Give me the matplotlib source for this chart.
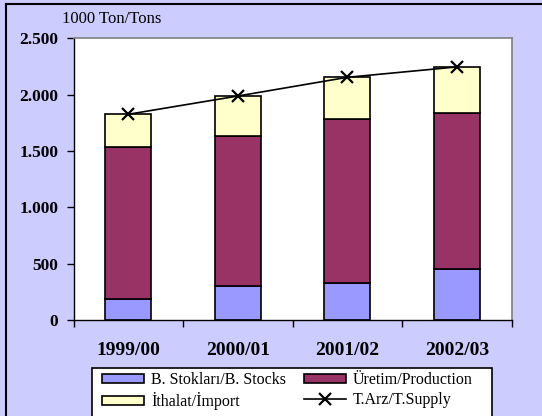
import matplotlib
matplotlib.use("Agg")
import matplotlib.pyplot as plt
from matplotlib.patches import Rectangle, Patch
from matplotlib.lines import Line2D
from matplotlib.ticker import FuncFormatter

categories = ["1999/00", "2000/01", "2001/02", "2002/03"]
stocks = [183, 304, 331, 452]
production = [1348, 1327, 1451, 1389]
imports = [295, 357, 372, 405]
supply = [1826, 1988, 2154, 2246]
yticks = [0, 500, 1000, 1500, 2000, 2500]

plt.rcParams['font.family'] = ['Liberation Serif', 'DejaVu Serif']

W, H = 542, 416
fig = plt.figure(figsize=(W / 100, H / 100), dpi=100)
fig.patch.set_facecolor('#CCCCFF')

ax = fig.add_axes([73.7 / W, (H - 320) / H, (511.7 - 73.7) / W, (320 - 38.3) / H])
ax.set_facecolor('white')

x = list(range(len(categories)))
bw = 0.42
c_st, c_pr, c_im = '#9999FF', '#993366', '#FFFFCC'
ax.bar(x, stocks, bw, color=c_st, edgecolor='black', linewidth=1.2, zorder=2)
ax.bar(x, production, bw, bottom=stocks, color=c_pr, edgecolor='black', linewidth=1.2, zorder=2)
bot2 = [a + b for a, b in zip(stocks, production)]
ax.bar(x, imports, bw, bottom=bot2, color=c_im, edgecolor='black', linewidth=1.2, zorder=2)
ax.plot(x, supply, color='black', linewidth=1.2, marker='x', markersize=9,
        markeredgewidth=1.6, zorder=3)

ax.set_xlim(-0.5, len(categories) - 0.5)
ax.set_ylim(0, 2500)
ax.set_yticks(yticks)
ax.yaxis.set_major_formatter(FuncFormatter(lambda v, p: f"{int(v):,}".replace(",", ".")))
ax.set_xticks(x)
ax.set_xticklabels(categories, fontsize=14, fontweight='bold')
ax.set_xticks([i - 0.5 for i in range(len(categories) + 1)], minor=True)
ax.tick_params(axis='x', which='major', length=0, pad=16)
ax.tick_params(axis='x', which='minor', length=5, direction='out', width=1)
ax.tick_params(axis='y', length=5, width=1, labelsize=12.5, pad=6)
for lbl in ax.get_yticklabels():
    lbl.set_fontweight('bold')

for s in ['top', 'right']:
    ax.spines[s].set_color('#808080')
    ax.spines[s].set_linewidth(1.2)
for s in ['left', 'bottom']:
    ax.spines[s].set_color('black')
    ax.spines[s].set_linewidth(1.0)

fig.text(62 / W, (H - 19) / H, "1000 Ton/Tons", fontsize=12, ha='left', va='center')

# figure border (cropped: top & left only visible)
fig.add_artist(Line2D([6 / W, 1.0], [(H - 4) / H, (H - 4) / H], color='black', linewidth=1.5,
                      transform=fig.transFigure))
fig.add_artist(Line2D([6 / W, 6 / W], [0, (H - 4) / H], color='black', linewidth=1.5,
                      transform=fig.transFigure))

# legend frame
fig.add_artist(Rectangle((91.7 / W, -0.05), (492.3 - 91.7) / W, (H - 368.3) / H + 0.05,
                         transform=fig.transFigure, facecolor='white', edgecolor='black',
                         linewidth=1.2, zorder=1))
handles = [
    Patch(facecolor=c_st, edgecolor='black', linewidth=1.2, label='B. Stokları/B. Stocks'),
    Patch(facecolor=c_im, edgecolor='black', linewidth=1.2, label='İthalat/İmport'),
    Patch(facecolor=c_pr, edgecolor='black', linewidth=1.2, label='Üretim/Production'),
    Line2D([0], [0], color='black', linewidth=1.2, marker='x', markersize=8,
           markeredgewidth=1.6, label='T.Arz/T.Supply'),
]
leg = fig.legend(handles=handles, ncol=2, loc='upper left',
                 bbox_to_anchor=(102 / W, (H - 372) / H), frameon=False,
                 fontsize=11.5, handlelength=2.63, handleheight=0.5, handletextpad=0.44,
                 columnspacing=1.1, labelspacing=0.28, borderaxespad=0, borderpad=0)
leg.set_zorder(2)

fig.savefig("out.png", dpi=100, facecolor=fig.get_facecolor())
